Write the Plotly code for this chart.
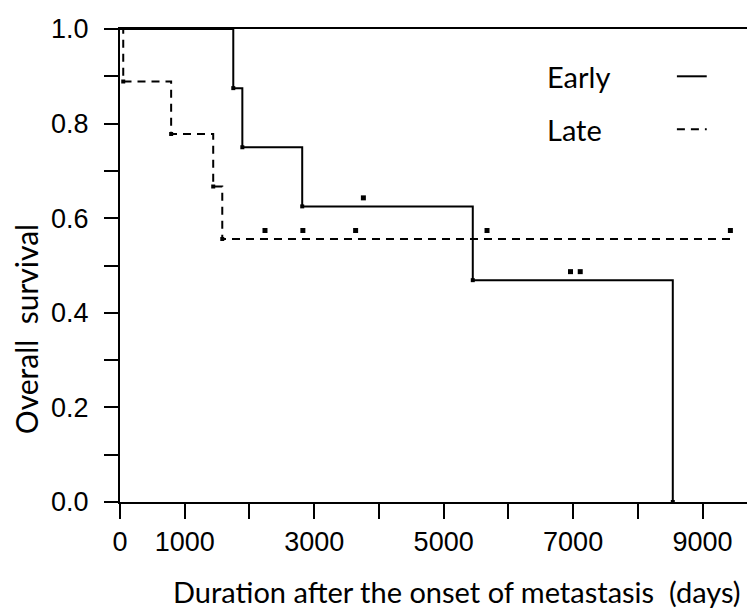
import plotly.graph_objects as go

# ---- data ----
early_times = [0, 1750, 1890, 2815, 5450, 8540]
early_surv = [1.0, 0.875, 0.75, 0.625, 0.469, 0.0]
early_censor_t = [3760, 6960, 7110]
early_censor_s = [0.625, 0.469, 0.469]

late_times = [0, 50, 790, 1440, 1580, 9430]
late_surv = [1.0, 0.889, 0.778, 0.667, 0.556, 0.556]
late_censor_t = [2240, 2825, 3640, 5670, 9430]
late_censor_s = [0.556, 0.556, 0.556, 0.556, 0.556]

x_ticks = [0, 1000, 2000, 3000, 4000, 5000, 6000, 7000, 8000, 9000]
x_ticktext = ["0", "1000", "", "3000", "", "5000", "", "7000", "", "9000"]
y_ticks = [0.0, 0.1, 0.2, 0.3, 0.4, 0.5, 0.6, 0.7, 0.8, 0.9, 1.0]
y_ticktext = ["0.0", "", "0.2", "", "0.4", "", "0.6", "", "0.8", "", "1.0"]

censor_lift = 0.018  # marks sit just above the curve

fig = go.Figure()
fig.add_trace(go.Scatter(x=early_times, y=early_surv, mode="lines",
                         line=dict(color="black", width=2, shape="hv"),
                         showlegend=False))
fig.add_trace(go.Scatter(x=late_times, y=late_surv, mode="lines",
                         line=dict(color="black", width=2, shape="hv", dash="8px,6px"),
                         showlegend=False))
# small event marks at the foot of each drop
fig.add_trace(go.Scatter(x=early_times[1:], y=early_surv[1:], mode="markers",
                         marker=dict(symbol="square", size=4, color="black"),
                         showlegend=False))
fig.add_trace(go.Scatter(x=late_times[1:-1], y=late_surv[1:-1], mode="markers",
                         marker=dict(symbol="square", size=4, color="black"),
                         showlegend=False))
# censor marks
fig.add_trace(go.Scatter(x=early_censor_t, y=[s + censor_lift for s in early_censor_s],
                         mode="markers", marker=dict(symbol="square", size=5, color="black"),
                         showlegend=False))
fig.add_trace(go.Scatter(x=late_censor_t, y=[s + censor_lift for s in late_censor_s],
                         mode="markers", marker=dict(symbol="square", size=5, color="black"),
                         showlegend=False))

title_font = dict(family="Lato", size=29, color="black")
tick_font = dict(family="Liberation Sans", size=27, color="black")

fig.update_layout(
    width=755, height=615,
    margin=dict(l=112, r=8, t=21, b=121),
    paper_bgcolor="white", plot_bgcolor="white",
    xaxis=dict(range=[0, 9810], tickvals=x_ticks, ticktext=x_ticktext,
               showline=True, linecolor="black", linewidth=2, mirror=True,
               ticks="outside", ticklen=15, tickwidth=2, tickcolor="black",
               showgrid=False, zeroline=False, tickfont=tick_font,
               ticklabelstandoff=0, automargin=False),
    yaxis=dict(range=[0, 1.0], tickvals=y_ticks, ticktext=y_ticktext,
               showline=True, linecolor="black", linewidth=2,
               ticks="outside", ticklen=14, tickwidth=2, tickcolor="black",
               showgrid=False, zeroline=False, tickfont=tick_font,
               ticklabelstandoff=10, automargin=False),
)

# axis titles
fig.add_annotation(x=0.530, y=-0.190, xref="paper", yref="paper",
                   text="Duration after the onset of metastasis  (days)",
                   showarrow=False, xanchor="center", yanchor="middle",
                   borderpad=0, font=title_font)
fig.add_annotation(x=-0.149, y=0.366, xref="paper", yref="paper",
                   text="Overall  survival", textangle=-90,
                   showarrow=False, xanchor="center", yanchor="middle",
                   borderpad=0, font=dict(family="Lato", size=30, color="black"))

# legend: text followed by a line sample
legend_items = [("Early", "solid", 0.900), ("Late", "8px,6px", 0.788)]
for name, dash, yy in legend_items:
    fig.add_annotation(x=0.669, y=yy, xref="paper", yref="paper", text=name,
                       showarrow=False, xanchor="left", yanchor="middle",
                       font=dict(family="Lato", size=29, color="black"))
    fig.add_shape(type="line", xref="paper", yref="paper",
                  x0=0.877, x1=0.924, y0=yy, y1=yy,
                  line=dict(color="black", width=2, dash=dash))

fig.write_html("out.html")
